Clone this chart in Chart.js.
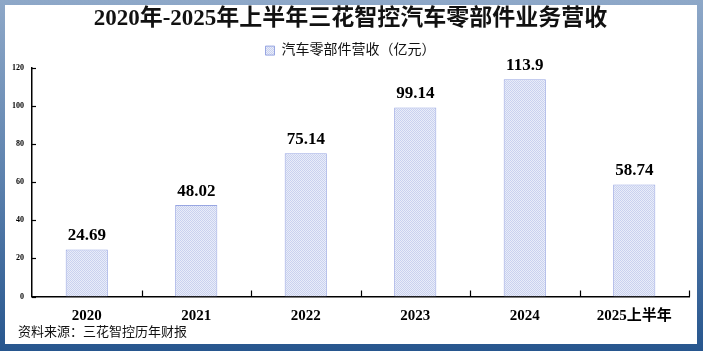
<!DOCTYPE html>
<html>
<head>
<meta charset="utf-8">
<script src="https://cdn.jsdelivr.net/npm/chart.js@4.4.0/dist/chart.umd.min.js"></script>
<style>
  html, body { margin: 0; padding: 0; }
  body {
    width: 703px; height: 351px; overflow: hidden; position: relative;
    background: linear-gradient(to bottom, #8ea8c8 0%, #5d82ae 50%, #27568e 100%);
  }
  #panel { position: absolute; left: 5px; top: 5px; width: 692px; height: 339px; background: #fff; }
  #wrap { position: absolute; left: 0; top: 0; width: 703px; height: 351px; }
</style>
</head>
<body>
<div id="panel"></div>
<div id="wrap"><canvas id="revenueChart" width="703" height="351"></canvas></div>
<script>
const years = ['2020', '2021', '2022', '2023', '2024', '2025上半年'];
const revenue = [24.69, 48.02, 75.14, 99.14, 113.9, 58.74];
const yTicks = [0, 20, 40, 60, 80, 100, 120];
const sourceNote = '资料来源：三花智控历年财报';

const serif = '"Liberation Serif", "Noto Sans CJK SC", serif';

// dotted fill like the original bars
const patCanvas = document.createElement('canvas');
patCanvas.width = 2;
patCanvas.height = 2;
const pctx = patCanvas.getContext('2d');
pctx.fillStyle = '#e9edf9';
pctx.fillRect(0, 0, 2, 2);
pctx.fillStyle = '#c9d1ef';
pctx.fillRect(0, 0, 1, 1);
pctx.fillRect(1, 1, 1, 1);
const barPattern = pctx.createPattern(patCanvas, 'repeat');

// small tick marks pointing into the plot area
const innerTicks = {
    id: 'innerTicks',
    afterDraw(chart) {
        const ctx = chart.ctx;
        const area = chart.chartArea;
        const y = chart.scales.y;
        ctx.save();
        ctx.strokeStyle = '#000';
        ctx.lineWidth = 1.2;
        yTicks.forEach(v => {
            const py = Math.round(y.getPixelForValue(v)) + 0.5;
            ctx.beginPath();
            ctx.moveTo(area.left, py);
            ctx.lineTo(area.left + 4, py);
            ctx.stroke();
        });
        const step = (area.right - area.left) / years.length;
        for (let i = 1; i <= years.length; i++) {
            const px = Math.round(area.left + step * i) + 0.5;
            ctx.beginPath();
            ctx.moveTo(px, area.bottom);
            ctx.lineTo(px, area.bottom - 6);
            ctx.stroke();
        }
        // source line under the axis
        ctx.fillStyle = '#111';
        ctx.font = '13px ' + serif;
        ctx.textAlign = 'left';
        ctx.textBaseline = 'middle';
        ctx.fillText(sourceNote, 18, 333);
        ctx.restore();
    }
};

const valueLabels = {
    id: 'valueLabels',
    afterDatasetsDraw(chart) {
        const ctx = chart.ctx;
        const meta = chart.getDatasetMeta(0);
        ctx.save();
        ctx.fillStyle = '#000';
        ctx.font = 'bold 17px ' + serif;
        ctx.textAlign = 'center';
        ctx.textBaseline = 'bottom';
        meta.data.forEach((bar, i) => {
            ctx.fillText(String(revenue[i]), bar.x, bar.y - 5);
        });
        ctx.restore();
    }
};

const ctx = document.getElementById('revenueChart').getContext('2d');
const revenueChart = new Chart(ctx, {
    type: 'bar',
    data: {
        labels: years,
        datasets: [{
            label: '汽车零部件营收（亿元）',
            data: revenue,
            backgroundColor: barPattern,
            borderColor: '#98a6e2',
            borderWidth: 1,
            categoryPercentage: 1,
            barPercentage: 0.385
        }]
    },
    options: {
        responsive: false,
        animation: false,
        layout: { padding: { left: 12, right: 14, top: 0, bottom: 0 } },
        plugins: {
            title: {
                display: true,
                text: '2020年-2025年上半年三花智控汽车零部件业务营收',
                color: '#111',
                font: { family: serif, size: 23, weight: 'bold' },
                padding: { top: 5, bottom: 4 }
            },
            legend: {
                display: true,
                labels: {
                    color: '#111',
                    font: { family: serif, size: 14 },
                    boxWidth: 9,
                    boxHeight: 9,
                    padding: 7
                }
            },
            tooltip: { enabled: false }
        },
        scales: {
            x: {
                grid: { display: false, drawTicks: false },
                border: { color: '#000', width: 1.5 },
                ticks: {
                    color: '#000',
                    padding: 11,
                    font: { family: serif, size: 15, weight: 'bold' }
                },
                afterFit(scale) { scale.height = 54.5; }
            },
            y: {
                min: 0,
                max: 120,
                grid: { display: false, drawTicks: false },
                border: { color: '#000', width: 1.5 },
                ticks: {
                    stepSize: 20,
                    color: '#000',
                    padding: 8,
                    font: { family: serif, size: 8, weight: 'bold' }
                },
                afterFit(scale) { scale.width = 20; }
            }
        }
    },
    plugins: [innerTicks, valueLabels]
});
</script>
</body>
</html>
